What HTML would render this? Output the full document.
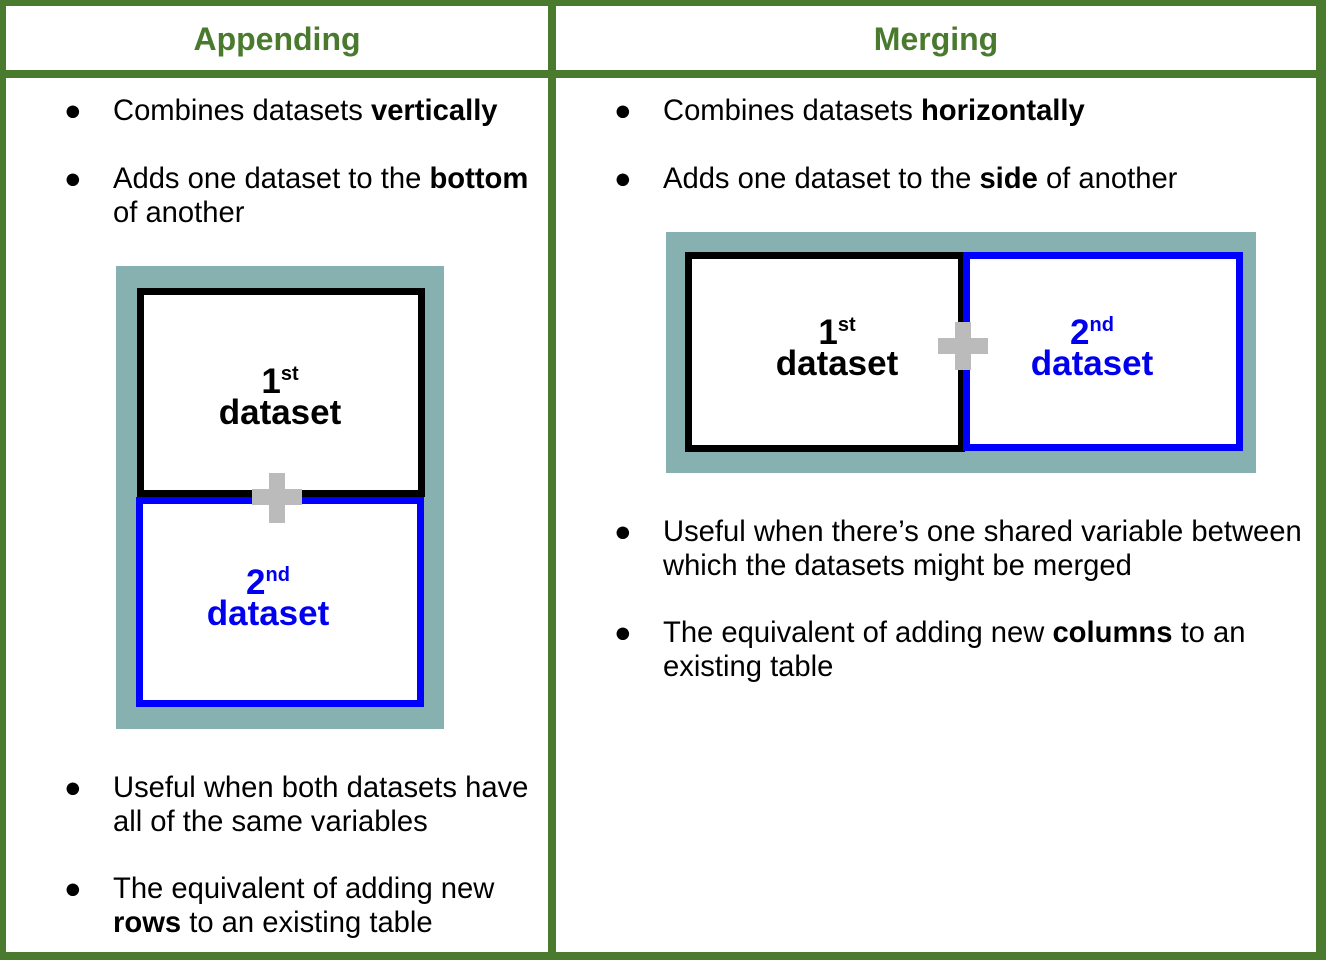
<!DOCTYPE html>
<html><head><style>
body{margin:0;width:1326px;height:960px;position:relative;background:#fff;font-family:"Liberation Sans",sans-serif;overflow:hidden}
.a{position:absolute}
.g{background:#497a2e}
.t{position:absolute;font-size:29.2px;line-height:34px;color:#000;white-space:nowrap;margin-top:1px}
.h{position:absolute;font-size:32px;font-weight:bold;color:#4a7a2e;text-align:center;top:20px;line-height:38px}
.lab{position:absolute;font-weight:bold;font-size:35px;line-height:31px;text-align:center}
.lab sup{font-size:20px;vertical-align:13px}
</style></head><body>
<div class="a g" style="left:0;top:0;width:1326px;height:6px"></div>
<div class="a g" style="left:0;top:952px;width:1326px;height:8px"></div>
<div class="a g" style="left:0;top:0;width:6px;height:960px"></div>
<div class="a g" style="left:1316px;top:0;width:10px;height:960px"></div>
<div class="a g" style="left:548px;top:0;width:8px;height:960px"></div>
<div class="a g" style="left:0;top:70px;width:1326px;height:8px"></div>
<div class="h" style="left:6px;width:542px">Appending</div>
<div class="h" style="left:556px;width:760px">Merging</div>

<div class="t" style="left:64px;top:93px">●</div>
<div class="t" style="left:113px;top:93px">Combines datasets <b>vertically</b></div>
<div class="t" style="left:64px;top:161px">●</div>
<div class="t" style="left:113px;top:161px">Adds one dataset to the <b>bottom</b><br>of another</div>
<div class="t" style="left:64px;top:770px">●</div>
<div class="t" style="left:113px;top:770px">Useful when both datasets have<br>all of the same variables</div>
<div class="t" style="left:64px;top:871px">●</div>
<div class="t" style="left:113px;top:871px">The equivalent of adding new<br><b>rows</b> to an existing table</div>

<div class="t" style="left:614px;top:93px">●</div>
<div class="t" style="left:663px;top:93px">Combines datasets <b>horizontally</b></div>
<div class="t" style="left:614px;top:161px">●</div>
<div class="t" style="left:663px;top:161px">Adds one dataset to the <b>side</b> of another</div>
<div class="t" style="left:614px;top:514px">●</div>
<div class="t" style="left:663px;top:514px">Useful when there’s one shared variable between<br>which the datasets might be merged</div>
<div class="t" style="left:614px;top:615px">●</div>
<div class="t" style="left:663px;top:615px">The equivalent of adding new <b>columns</b> to an<br>existing table</div>

<!-- left diagram -->
<div class="a" style="left:116px;top:266px;width:328px;height:463px;background:#87b1b1"></div>
<div class="a" style="left:137px;top:288px;width:288px;height:209px;background:#fff;box-sizing:border-box;border:7px solid #000"></div>
<div class="a" style="left:136px;top:497px;width:288px;height:210px;background:#fff;box-sizing:border-box;border:7px solid #0000ff"></div>
<div class="a" style="left:252px;top:489px;width:50px;height:16px;background:#bbb"></div>
<div class="a" style="left:269px;top:473px;width:16px;height:50px;background:#bbb"></div>
<div class="lab" style="left:136px;width:288px;top:359px">1<sup>st</sup><br>dataset</div>
<div class="lab" style="left:124px;width:288px;top:560px;color:#0000ee">2<sup>nd</sup><br>dataset</div>

<!-- right diagram -->
<div class="a" style="left:666px;top:232px;width:590px;height:241px;background:#87b1b1"></div>
<div class="a" style="left:685px;top:252px;width:280px;height:200px;background:#fff;box-sizing:border-box;border:7px solid #000"></div>
<div class="a" style="left:963px;top:252px;width:280px;height:199px;background:#fff;box-sizing:border-box;border:7px solid #0000ff"></div>
<div class="a" style="left:938px;top:338px;width:50px;height:16px;background:#bbb"></div>
<div class="a" style="left:955px;top:322px;width:16px;height:48px;background:#bbb"></div>
<div class="lab" style="left:692px;width:290px;top:310px">1<sup>st</sup><br>dataset</div>
<div class="lab" style="left:947px;width:290px;top:310px;color:#0000ee">2<sup>nd</sup><br>dataset</div>
</body></html>
